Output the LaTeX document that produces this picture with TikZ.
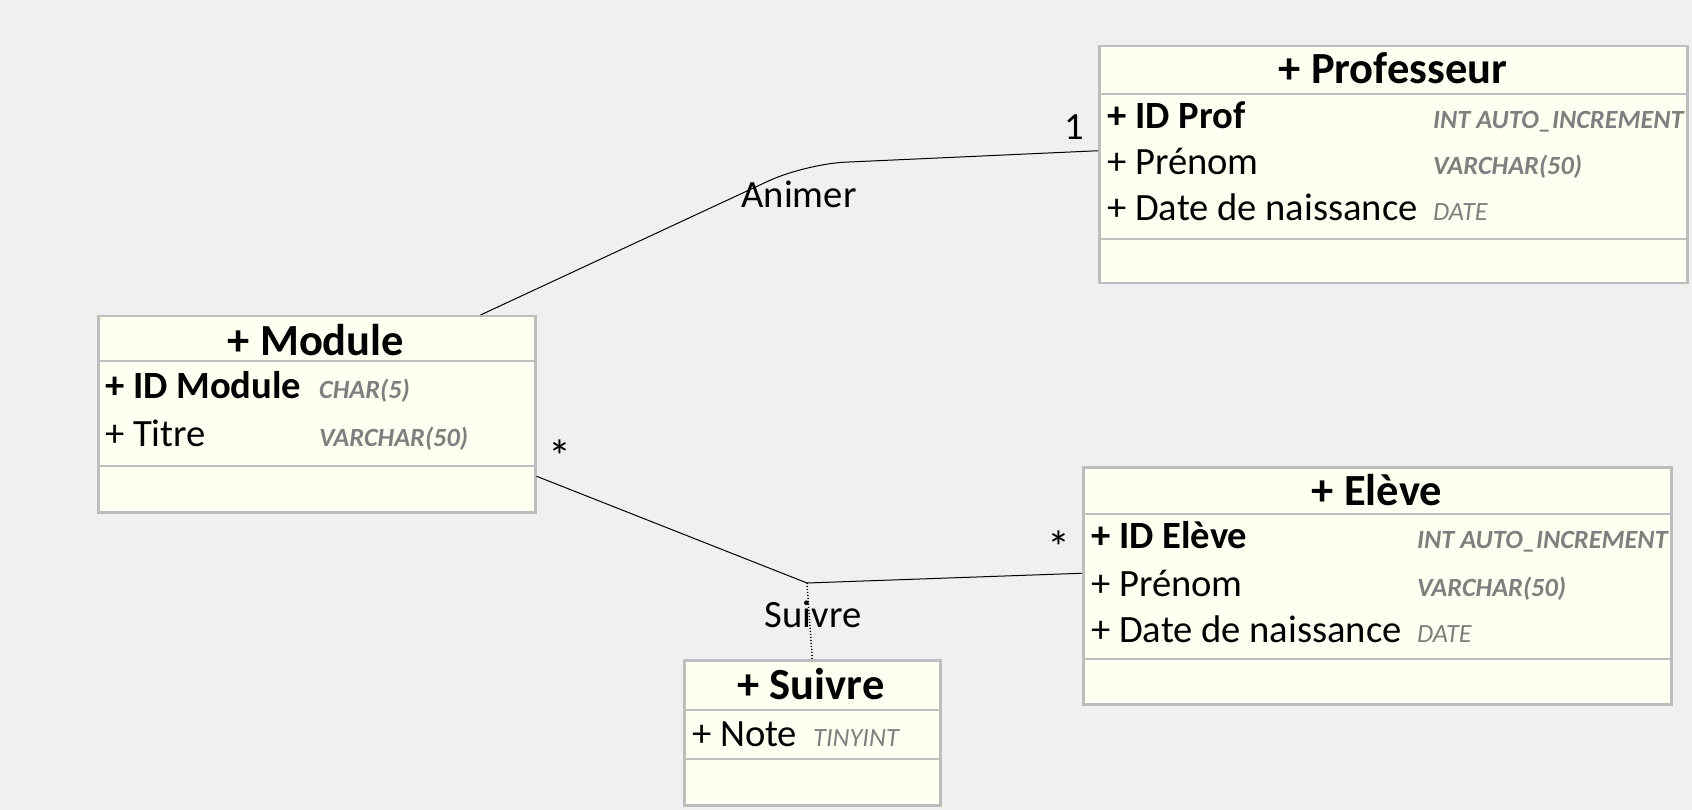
\documentclass[tikz,border=0pt]{standalone}
\usepackage{fontspec}
\setmainfont{Carlito}
\usetikzlibrary{calc}
\definecolor{canvas}{HTML}{F0F0F0}
\definecolor{classfill}{HTML}{FFFFF2}
\definecolor{classline}{HTML}{BDBDBD}
\definecolor{typegray}{HTML}{7F7F7F}

\tikzset{
  classbox/.style={draw=classline, line width=2.5pt, fill=classfill, anchor=north west, inner sep=0pt},
  sepline/.style={draw=classline, line width=2.5pt},
  ctitle/.style={anchor=base, font=\fontsize{44.5}{48}\selectfont\bfseries, inner sep=0pt},
  attr/.style={anchor=base west, font=\fontsize{38.6}{42}\selectfont, inner sep=0pt},
  keyattr/.style={attr, font=\fontsize{38.6}{42}\selectfont\bfseries},
  sqltype/.style={anchor=base west, font=\fontsize{26.3}{30}\selectfont\bfseries\itshape, text=typegray, inner sep=0pt},
  sqltypelight/.style={sqltype, font=\fontsize{26.3}{30}\selectfont\itshape},
  assoc/.style={draw=black, line width=1pt},
  asslabel/.style={font=\fontsize{38.6}{42}\selectfont, inner sep=0pt},
  multstar/.style={font=\fontsize{46}{48}\selectfont, inner sep=0pt},
}

\begin{document}
\begin{tikzpicture}[x=1pt, y=-1pt]
  \fill[canvas] (0,0) rectangle (1692,810);
  \useasboundingbox (0,0) rectangle (1692,810);

  % ---- Professeur ----
  \node[classbox, minimum width=588pt, minimum height=237pt] (prof) at (1098,45) {};
  \draw[sepline] (1098,94) -- (1686,94);
  \draw[sepline] (1098,239) -- (1686,239);
  \node[ctitle] (proft) at (1393,84) {+ Professeur};
  \node[keyattr] (profa1) at (1107,129) {+ ID Prof};
  \node[attr] (profa2) at (1107,175) {+ Prénom};
  \node[attr] (profa3) at (1107,221) {+ Date de naissance};
  \node[sqltype] (proft1) at (1433,129) {INT AUTO\_INCREMENT};
  \node[sqltype] (proft2) at (1433,175) {VARCHAR(50)};
  \node[sqltypelight] (proft3) at (1433,221) {DATE};

  % ---- Module ----
  \node[classbox, minimum width=437pt, minimum height=196pt] (module) at (97,315) {};
  \draw[sepline] (97,361) -- (534,361);
  \draw[sepline] (97,466) -- (534,466);
  \node[ctitle] (modt) at (316,355) {+ Module};
  \node[keyattr] (moda1) at (105,398) {+ ID Module};
  \node[attr] (moda2) at (105,446) {+ Titre};
  \node[sqltype] (modt1) at (319,398) {CHAR(5)};
  \node[sqltype] (modt2) at (319,446) {VARCHAR(50)};

  % ---- Eleve ----
  \node[classbox, minimum width=588pt, minimum height=237pt] (eleve) at (1082,466) {};
  \draw[sepline] (1082,514) -- (1670,514);
  \draw[sepline] (1082,659) -- (1670,659);
  \node[ctitle] (elt) at (1377,505) {+ Elève};
  \node[keyattr] (ela1) at (1091,548) {+ ID Elève};
  \node[attr] (ela2) at (1091,596) {+ Prénom};
  \node[attr] (ela3) at (1091,642) {+ Date de naissance};
  \node[sqltype] (elt1) at (1417,548) {INT AUTO\_INCREMENT};
  \node[sqltype] (elt2) at (1417,596) {VARCHAR(50)};
  \node[sqltypelight] (elt3) at (1417,642) {DATE};

  % ---- Suivre (association class) ----
  \node[classbox, minimum width=256pt, minimum height=145pt] (suivre) at (683,659) {};
  \draw[sepline] (683,710) -- (939,710);
  \draw[sepline] (683,759) -- (939,759);
  \node[ctitle] (suit) at (811,699) {+ Suivre};
  \node[attr] (suia1) at (692,746) {+ Note};
  \node[sqltypelight] (suit1) at (813,746) {TINYINT};

  % ---- Animer association ----
  \coordinate (animerbend) at (805,164);
  \draw[assoc, rounded corners=40pt] ([xshift=-56pt]module.north east) -- (animerbend) -- ([yshift=14pt]prof.west);
  \node[asslabel] (animerlbl) at (799,194) {Animer};
  \node[asslabel] (animerm) at (1074,127) {1};

  % ---- Suivre association ----
  \coordinate (suivrejoin) at (807,583);
  \draw[assoc] ([yshift=-62pt]module.east) -- (suivrejoin) -- ([yshift=12.5pt]eleve.west);
  \draw[assoc, dotted, line width=1.5pt] (suivrejoin) -- (suivre.north);
  \node[asslabel] (suivrelbl) at (813,614) {Suivre};
  \node[multstar] (suivrem1) at (560,456) {*};
  \node[multstar] (suivrem2) at (1059,547) {*};
\end{tikzpicture}
\end{document}
